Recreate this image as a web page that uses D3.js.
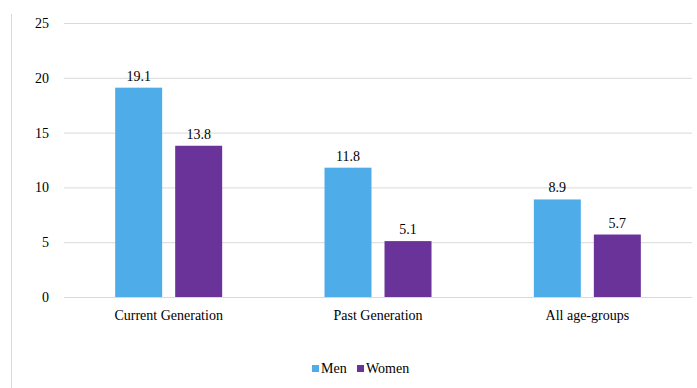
<!DOCTYPE html>
<head>
  <meta charset="utf-8">
  <script src="https://d3js.org/d3.v7.min.js"></script>
  <style>
    body { margin: 0; background: #fff; }
    svg text { font-size: 14px; fill: #000; }
    .grid line { stroke: #d9d9d9; stroke-width: 1; }
    .grid path { display: none; }
    .y path, .y line, .x path, .x line { display: none; }
  </style>
</head>
<body>
  <script>
    var categories = ["Current Generation", "Past Generation", "All age-groups"];
    var series = ["Men", "Women"];
    var men = [19.1, 11.8, 8.9];
    var women = [13.8, 5.1, 5.7];
    var yTicks = [0, 5, 10, 15, 20, 25];
    var colors = ["#4eade9", "#6a3399"];

    var width = 697, height = 388;
    var margin = { top: 23, right: 5, bottom: 91, left: 64 };
    var plotW = width - margin.left - margin.right;
    var plotH = height - margin.top - margin.bottom;
    var serif = "Liberation Serif";

    var svg = d3.select("body").append("svg")
        .attr("width", width)
        .attr("height", height)
        .attr("font-family", serif);

    // outer left border
    svg.append("line")
        .attr("x1", 11.5).attr("x2", 11.5)
        .attr("y1", 14).attr("y2", height)
        .attr("stroke", "#d9d9d9");

    var g = svg.append("g")
        .attr("transform", "translate(" + margin.left + "," + margin.top + ")");

    var x0 = d3.scaleBand().domain(categories).range([0, plotW]);
    var x1 = d3.scaleBand().domain(series).range([0, 107]).paddingInner(0.217);
    var y = d3.scaleLinear().domain([0, 25]).range([plotH, 0]);

    g.append("g")
        .attr("class", "grid")
        .call(d3.axisLeft(y).tickValues(yTicks).tickSize(-plotW).tickFormat(""));

    g.append("g")
        .attr("class", "y")
        .attr("transform", "translate(-12,0)")
        .call(d3.axisLeft(y).tickValues(yTicks).tickSize(0))
        .attr("font-family", serif).attr("font-size", 14);

    g.append("g")
        .attr("class", "x")
        .attr("transform", "translate(0," + plotH + ")")
        .call(d3.axisBottom(x0).tickSize(0).tickPadding(13))
        .attr("font-family", serif).attr("font-size", 14);

    var rows = categories.map(function(c, i) {
      return { cat: c, vals: [{ s: "Men", v: men[i] }, { s: "Women", v: women[i] }] };
    });

    var grp = g.selectAll(".grp")
        .data(rows)
      .enter().append("g")
        .attr("transform", function(d) {
          return "translate(" + (x0(d.cat) + x0.bandwidth() / 2 - 53.5) + ",0)";
        });

    grp.selectAll("rect")
        .data(function(d) { return d.vals; })
      .enter().append("rect")
        .attr("x", function(d) { return x1(d.s); })
        .attr("width", x1.bandwidth())
        .attr("y", function(d) { return y(d.v); })
        .attr("height", function(d) { return plotH - y(d.v); })
        .attr("fill", function(d, i) { return colors[i]; });

    grp.selectAll(".lbl")
        .data(function(d) { return d.vals; })
      .enter().append("text")
        .attr("class", "lbl")
        .attr("x", function(d) { return x1(d.s) + x1.bandwidth() / 2; })
        .attr("y", function(d) { return y(d.v) - 7; })
        .attr("text-anchor", "middle")
        .text(function(d) { return d.v.toFixed(1); });

    // legend
    var legend = svg.append("g").attr("transform", "translate(312,369)");
    var lx = [0, 45];
    series.forEach(function(s, i) {
      legend.append("rect")
          .attr("x", lx[i]).attr("y", -4)
          .attr("width", 7).attr("height", 7)
          .attr("fill", colors[i]);
      legend.append("text")
          .attr("x", lx[i] + 9).attr("y", 4)
          .text(s);
    });
  </script>
</body>
